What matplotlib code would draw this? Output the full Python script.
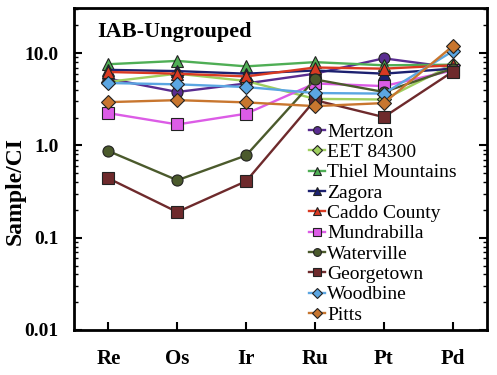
import numpy as np
import matplotlib.pyplot as plt

plt.rcParams['font.family'] = ['Liberation Serif', 'DejaVu Serif']

elements = ['Re', 'Os', 'Ir', 'Ru', 'Pt', 'Pd']

mertzon = [5.3, 3.8, 4.7, 6.0, 8.8, 7.0]
eet84300 = [4.9, 6.0, 5.0, 3.2, 3.15, 7.5]
thiel = [7.6, 8.25, 7.2, 8.0, 7.4, 7.5]
zagora = [6.6, 6.4, 6.0, 6.5, 6.0, 6.8]
caddo = [6.26, 6.0, 5.6, 7.0, 6.8, 7.4]
mundrabilla = [2.24, 1.69, 2.21, 4.7, 4.4, 6.5]
waterville = [0.87, 0.42, 0.78, 5.2, 3.8, 6.8]
georgetown = [0.44, 0.19, 0.41, 3.1, 2.03, 6.3]
woodbine = [4.75, 4.6, 4.3, 3.7, 3.65, 10.5]
pitts = [2.95, 3.1, 2.93, 2.67, 2.88, 11.9]

series = [
    ('Mertzon', mertzon, 'o', '#5a2d91'),
    ('EET 84300', eet84300, 'D', '#9fcf5f'),
    ('Thiel Mountains', thiel, '^', '#4fae55'),
    ('Zagora', zagora, '^', '#1c2170'),
    ('Caddo County', caddo, '^', '#d93a22'),
    ('Mundrabilla', mundrabilla, 's', '#dc5ce6'),
    ('Waterville', waterville, 'o', '#4b5a2c'),
    ('Georgetown', georgetown, 's', '#6e2a2c'),
    ('Woodbine', woodbine, 'D', '#5ba6e2'),
    ('Pitts', pitts, 'D', '#c8762f'),
]

fig, ax = plt.subplots(figsize=(4.97, 3.75), dpi=100)
fig.subplots_adjust(left=0.149, right=0.98, top=0.979, bottom=0.12)

x = np.arange(len(elements))
for name, vals, mk, col in series:
    ms = 8 if mk != 'D' else 7
    ax.plot(x, vals, color=col, marker=mk, ms=ms, mec='#222222', mew=0.8,
            lw=1.7, label=name)

ax.set_yscale('log')
ax.set_ylim(0.01, 31)
ax.set_xlim(-0.5, 5.5)
ax.set_xticks(x)
ax.set_xticklabels(elements)
ax.set_yticks([0.01, 0.1, 1, 10])
ax.set_yticklabels(['0.01', '0.1', '1.0', '10.0'])
ax.set_ylabel('Sample/CI', fontsize=17, fontweight='bold')
ax.yaxis.set_label_coords(-0.118, 0.43)

for lab in ax.get_xticklabels():
    lab.set_fontsize(15)
    lab.set_fontweight('bold')
for lab in ax.get_yticklabels():
    lab.set_fontsize(14)
    lab.set_fontweight('bold')

ax.tick_params(axis='y', which='both', direction='in', right=True)
ax.tick_params(axis='y', which='major', length=6, width=1.5, pad=11)
ax.tick_params(axis='y', which='minor', length=3, width=1)
ax.tick_params(axis='x', direction='in', length=6, width=1.5, pad=14)
for s in ax.spines.values():
    s.set_linewidth(2)

ax.text(0.057, 0.955, 'IAB-Ungrouped', transform=ax.transAxes,
        fontsize=16, fontweight='bold', va='top')

ax.legend(loc='lower left', bbox_to_anchor=(0.551, -0.005), frameon=False,
          fontsize=14, handlelength=0.8, handletextpad=0.1,
          labelspacing=0.14, borderaxespad=0, markerscale=0.7)

fig.savefig('out.png')
